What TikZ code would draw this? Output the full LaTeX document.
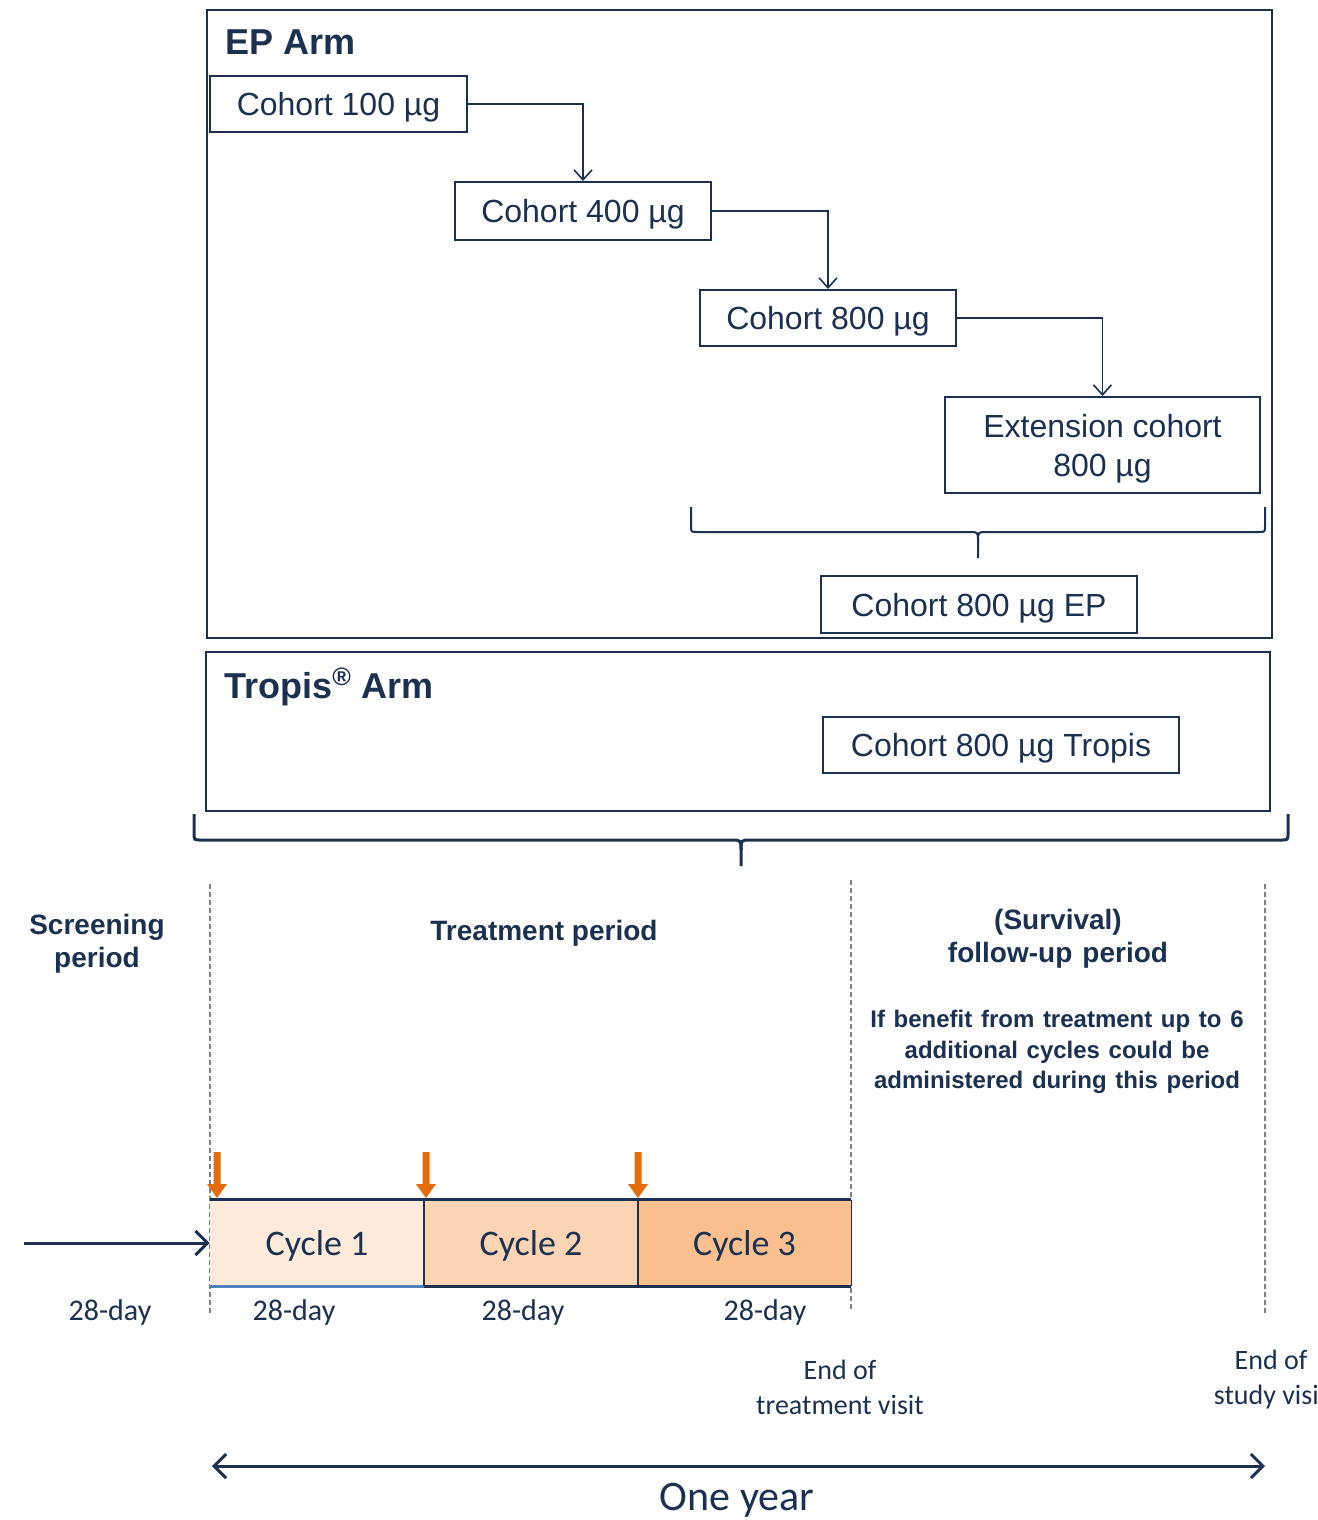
\documentclass[tikz,border=0pt]{standalone}
\usepackage{fontspec}
\setmainfont{Liberation Sans}
\newfontfamily\calib{Carlito}
\usetikzlibrary{arrows.meta}
\definecolor{navy}{HTML}{1C3150}
\definecolor{dose}{HTML}{E46C0A}
\definecolor{cyA}{HTML}{FDEADA}
\definecolor{cyB}{HTML}{FBD4B4}
\definecolor{cyC}{HTML}{F9BF8F}
\definecolor{cyline}{HTML}{4F81BD}
\newcommand\wgap{\hspace{0.36em}}
\begin{document}
\begin{tikzpicture}[x=0.5pt,y=-0.5pt,
  box/.style={draw=navy, line width=1pt, inner sep=0pt, text=navy, font=\fontsize{16}{19.5}\selectfont, align=center, text depth=0pt},
  armbox/.style={draw=navy, line width=1.1pt, inner sep=0pt},
  title/.style={text=navy, font=\bfseries\fontsize{18}{22}\selectfont, inner sep=0pt},
  flow/.style={draw=navy, line width=0.8pt, -{Straight Barb[length=5pt,width=9pt]}},
  brace/.style={draw=navy, line width=1pt},
  period/.style={text=navy, font=\bfseries\fontsize{14}{16.5}\selectfont, align=center},
  note/.style={text=navy, font=\bfseries\fontsize{12}{15.25}\selectfont, align=center},
  cycle/.style={inner sep=0pt, text=navy, font=\calib\fontsize{18}{22}\selectfont, minimum height=43pt, text depth=0pt},
  daylbl/.style={text=navy, font=\calib\fontsize{15}{18}\selectfont},
  visit/.style={text=navy, font=\calib\fontsize{14}{17.5}\selectfont, align=center},
  guide/.style={draw=gray, line width=0.6pt, dash pattern=on 2.5pt off 1.5pt},
  timeline/.style={draw=navy, line width=1.5pt},
  tip/.style={-{Straight Barb[length=6pt,width=12pt]}},
  dosearrow/.pic={\fill[dose] (-3.5,0) -- (3.5,0) -- (3.5,32) -- (10,32) -- (0,46) -- (-10,32) -- (-3.5,32) -- cycle;}
]
\useasboundingbox (0,0) rectangle (1317,1520);

% EP arm
\node[armbox, minimum width=532.5pt, minimum height=314pt] (ep) at (739.5,324) {};
\node[title, anchor=base west] (eptitle) at (225,55) {EP Arm};
\node[box, minimum width=128.5pt, minimum height=28pt] (c100) at (338.5,104) {Cohort 100 µg};
\node[box, minimum width=128pt, minimum height=29pt] (c400) at (583,211) {Cohort 400 µg};
\node[box, minimum width=128pt, minimum height=28pt] (c800) at (828,318) {Cohort 800 µg};
\node[box, minimum width=157.5pt, minimum height=48pt] (cext) at (1102.5,445) {Extension cohort\\800 µg};
\node[box, minimum width=158pt, minimum height=28.5pt] (cep) at (979,604.5) {Cohort 800 µg EP};
\draw[flow] (c100.east) -| (c400.north);
\draw[flow] (c400.east) -| (c800.north);
\draw[flow] (c800.east) -| (cext.north);
\draw[brace] (691,507) -- (691,526) .. controls (691,532) .. (697,532) -- (970,532)
  .. controls (978,532) .. (978,542) -- (978,558);
\draw[brace] (978,542) .. controls (978,532) .. (986,532) -- (1259,532)
  .. controls (1265,532) .. (1265,526) -- (1265,507);

% Tropis arm
\node[armbox, minimum width=532pt, minimum height=79.5pt] (tr) at (738,731.5) {};
\node[title, anchor=base west] (trtitle) at (224,698) {Tropis\textsuperscript{®} Arm};
\node[box, minimum width=178pt, minimum height=28pt] (ctrop) at (1001,745) {Cohort 800 µg Tropis};

% big brace
\draw[brace, line width=1.5pt] (194,814) -- (194,833) .. controls (194,840) .. (201,840) -- (731,840)
  .. controls (741,840) .. (741,850) -- (741,866);
\draw[brace, line width=1.5pt] (741,850) .. controls (741,840) .. (751,840) -- (1281,840)
  .. controls (1288,840) .. (1288,833) -- (1288,814);

% guides
\draw[guide] (210,884) -- (210,1315);
\draw[guide] (851,880) -- (851,1310);
\draw[guide] (1265,884) -- (1265,1315);

% period labels
\node[period] (scr) at (97,943.5) {Screening\\period};
\node[period] (trt) at (544,933) {Treatment period};
\node[period] (fu) at (1058,939) {(Survival)\\follow-up\wgap period};
\node[note] (ben) at (1057,1052) {If\wgap benefit\wgap from\wgap treatment\wgap up\wgap to\wgap 6\\additional\wgap cycles\wgap could\wgap be\\administered\wgap during\wgap this\wgap period};

% cycles
\node[cycle, fill=cyA, minimum width=107pt] (cy1) at (317,1243) {Cycle 1};
\node[cycle, fill=cyB, minimum width=107pt] (cy2) at (531,1243) {Cycle 2};
\node[cycle, fill=cyC, minimum width=106.5pt] (cy3) at (744.5,1243) {Cycle 3};
\draw[navy, line width=1.5pt] (cy1.north west) -- (cy3.north east);
\draw[cyline, line width=1.2pt] (cy1.south west) -- (cy1.south east);
\draw[navy, line width=1.2pt] (cy2.south west) -- (cy3.south east);
\draw[navy, line width=1pt] (cy1.north east) -- (cy1.south east);
\draw[navy, line width=1pt] (cy2.north east) -- (cy2.south east);
\draw[navy, line width=0.8pt] (cy3.north east) -- (cy3.south east);
\pic at (217,1152) {dosearrow};
\pic at (426,1152) {dosearrow};
\pic at (638,1152) {dosearrow};

\coordinate (start) at (24,1243);
\draw[timeline, tip] (start) -- (cy1.west);

\node[daylbl] (d0) at (110,1312) {28-day};
\node[daylbl] (d1) at (294,1312) {28-day};
\node[daylbl] (d2) at (523,1312) {28-day};
\node[daylbl] (d3) at (765,1312) {28-day};

\node[visit] (eot) at (840,1387.5) {End of\\treatment visit};
\node[visit] (eos) at (1271,1380) {End of\\study visit};

\coordinate (yl) at (212,1466);
\coordinate (yr) at (1265,1466);
\draw[timeline, {Straight Barb[length=6pt,width=12pt]}-{Straight Barb[length=6pt,width=12pt]}] (yl) -- (yr);
\node[text=navy, font=\calib\fontsize{21}{25}\selectfont] (oy) at (737,1500) {One year};
\end{tikzpicture}
\end{document}
